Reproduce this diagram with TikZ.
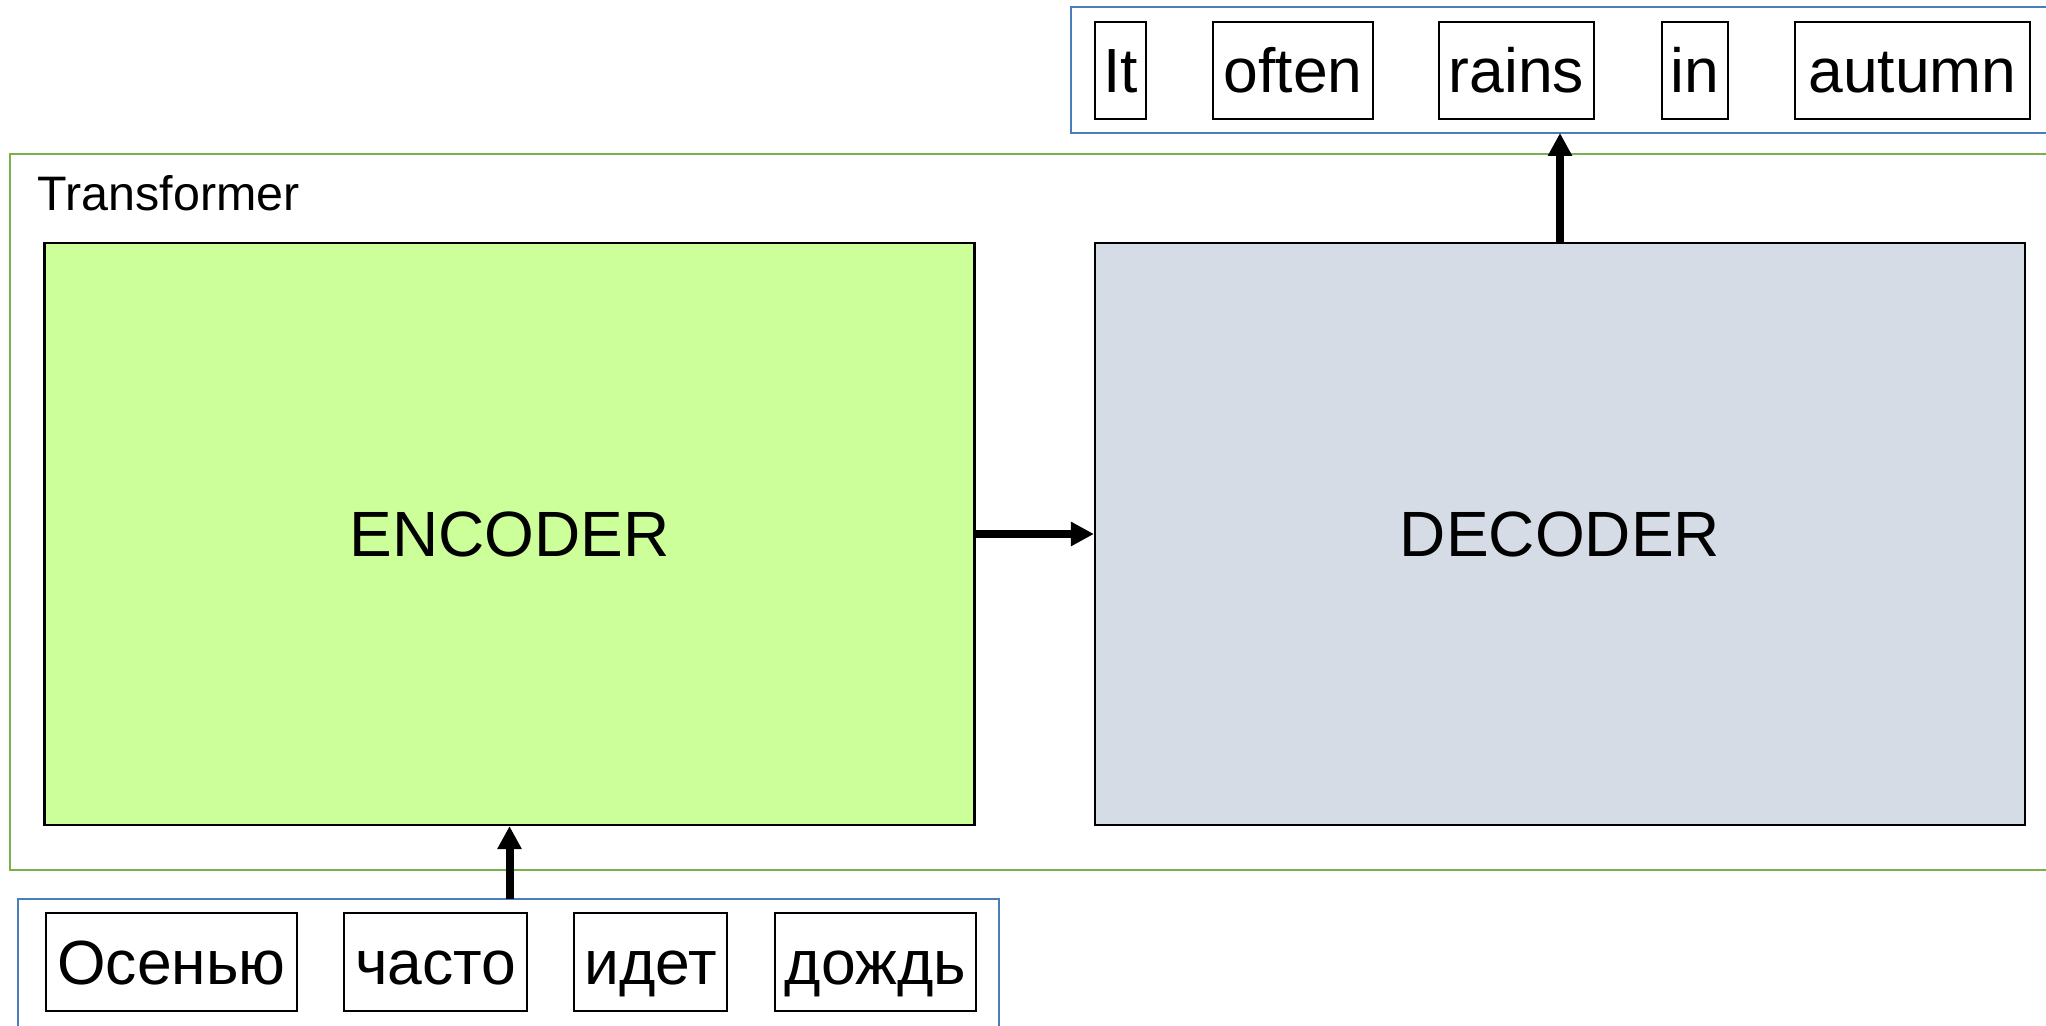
\documentclass[tikz,border=0pt]{standalone}
\usepackage{fontspec}
\setmainfont{Liberation Sans}
\usetikzlibrary{arrows.meta}
\definecolor{encfill}{HTML}{CCFF99}
\definecolor{decfill}{HTML}{D6DCE5}
\definecolor{frameblue}{HTML}{4A7EBB}
\definecolor{framegreen}{HTML}{77B150}

\begin{document}
\begin{tikzpicture}[x=0.25pt,y=-0.25pt]
  \useasboundingbox (0,0) rectangle (2046,1026);
  \clip (0,0) rectangle (2046,1026);
  \tikzstyle{Block}=[draw=black,line width=0.55pt,inner sep=0pt,
    minimum width=232.5pt,minimum height=145.5pt,text height=11.5pt,text depth=0pt,
    font=\fontsize{16}{19}\selectfont]
  \tikzstyle{Word}=[draw=black,line width=0.45pt,inner sep=0pt,
    minimum height=24.4pt,text height=11.2pt,text depth=0pt,
    font=\fontsize{15.6}{18}\selectfont]
  \tikzstyle{Flow}=[line width=2pt,-{Triangle[length=5.75pt,width=5.75pt]}]
  % frames
  \draw[framegreen,line width=0.7pt] (10,154) rectangle (2100,870);
  \node[anchor=base west,inner sep=0pt,font=\fontsize{12.1}{14}\selectfont] (title) at (37,211) {Transformer};
  \draw[frameblue,line width=0.55pt] (1071,7) rectangle (2100,133);
  \draw[frameblue,line width=0.55pt] (18,899) rectangle (999,1100);
  % blocks
  \node[Block,fill=encfill] (enc) at (509.5,534) {ENCODER};
  \node[Block,fill=decfill] (dec) at (1560,534) {DECODER};
  % output words
  \node[Word,minimum width=12.75pt] (It)     at (1120.5,70.5) {It};
  \node[Word,minimum width=40pt]    (often)  at (1293,70.5)   {often};
  \node[Word,minimum width=38.75pt] (rains)  at (1516.5,70.5) {rains};
  \node[Word,minimum width=16.5pt]  (in)     at (1695,70.5)   {in};
  \node[Word,minimum width=58.75pt] (autumn) at (1912.5,70.5) {autumn};
  % input words
  \node[Word,minimum width=62.75pt] (osen)   at (171.5,962) {Осенью};
  \node[Word,minimum width=45.75pt] (chasto) at (435.5,962) {часто};
  \node[Word,minimum width=38.25pt] (idet)   at (650.5,962) {идет};
  \node[Word,minimum width=50.25pt] (dozhd)  at (875.5,962) {дождь};
  % arrows
  \coordinate (inTop) at (509.5,899);
  \coordinate (outBot) at (1560,133);
  \draw[Flow] (inTop) -- (enc.south);
  \draw[Flow] (enc.east) -- (dec.west);
  \draw[Flow] (dec.north) -- (outBot);
\end{tikzpicture}
\end{document}
